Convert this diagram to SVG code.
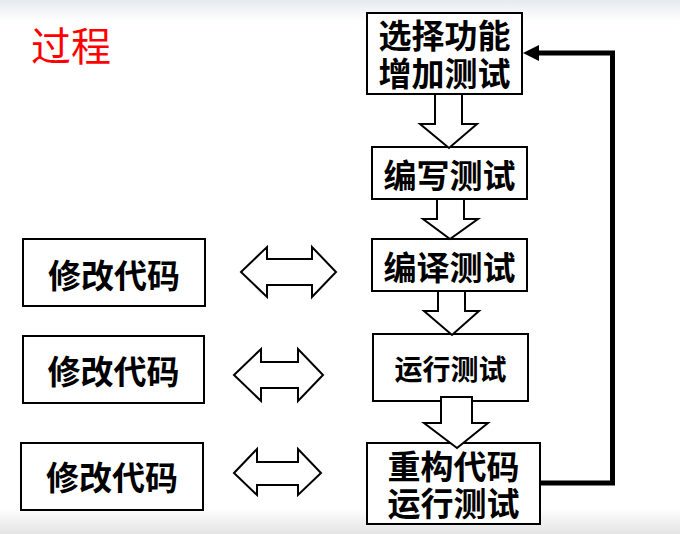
<svg xmlns="http://www.w3.org/2000/svg" width="680" height="534" viewBox="0 0 680 534">
<defs>
<linearGradient id="topg" x1="0" y1="0" x2="0" y2="1"><stop offset="0" stop-color="#e6ebf1"/><stop offset="1" stop-color="#ffffff"/></linearGradient>
<linearGradient id="botg" x1="0" y1="0" x2="0" y2="1"><stop offset="0" stop-color="#ffffff"/><stop offset="1" stop-color="#e4e4e4"/></linearGradient>
<style>
.box{fill:#fff;stroke:#000;stroke-width:2}
.arr{fill:#fff;stroke:#000;stroke-width:2;stroke-linejoin:miter}
.t{font-family:"Noto Sans CJK SC","Noto Sans",sans-serif;font-weight:bold;font-size:33px;fill:#000;text-anchor:middle}
.ts{font-size:28px}
.title{font-family:"Noto Sans CJK SC","Noto Sans",sans-serif;font-size:40px;fill:#ff0000}
</style>
</defs>
<rect x="0" y="0" width="680" height="534" fill="#fff"/>
<rect x="0" y="0" width="680" height="22" fill="url(#topg)"/>
<rect x="0" y="508" width="680" height="26" fill="url(#botg)"/>
<text class="title" x="31" y="61">过程</text>

<g id="n1"><rect class="box" x="367" y="13" width="155" height="81"/><text class="t"><tspan x="444.5" y="48">选择功能</tspan><tspan x="444.5" y="86">增加测试</tspan></text></g>
<g id="n2"><rect class="box" x="372" y="147" width="155" height="52"/><text class="t" x="449.5" y="188">编写测试</text></g>
<g id="n3"><rect class="box" x="372" y="239" width="155" height="52"/><text class="t" x="449.5" y="280">编译测试</text></g>
<g id="n4"><rect class="box" x="373" y="334" width="155" height="67"/><text class="t ts" x="450.5" y="380">运行测试</text></g>
<g id="n5"><rect class="box" x="367" y="443" width="173" height="81"/><text class="t"><tspan x="453.5" y="479">重构代码</tspan><tspan x="453.5" y="516">运行测试</tspan></text></g>
<g id="m1"><rect class="box" x="23" y="239" width="182" height="67"/><text class="t" x="114" y="288">修改代码</text></g>
<g id="m2"><rect class="box" x="23" y="336" width="181" height="67"/><text class="t" x="113.5" y="384">修改代码</text></g>
<g id="m3"><rect class="box" x="21" y="443" width="182" height="67"/><text class="t" x="112" y="490">修改代码</text></g>

<g id="connectors">
<polygon class="arr" points="435,94 462,94 462,124 477,124 449,148 420,124 435,124"/>
<polygon class="arr" points="437,199 464,199 464,219 478,219 450,239 423,219 437,219"/>
<polygon class="arr" points="438,291 465,291 465,311 479,311 452,335 424,311 438,311"/>
<polygon class="arr" points="441,397 472,397 472,423 488,423 457,448 424,423 441,423"/>
<polygon class="arr" points="241,272 267,247 267,259 312,259 312,247 336,272 312,297 312,285 267,285 267,297"/>
<polygon class="arr" points="234,375 261,349 261,362 298,362 298,349 323,375 298,401 298,388 261,388 261,401"/>
<polygon class="arr" points="234,473 257,449 257,462 298,462 298,449 321,473 298,495 298,485 257,485 257,495"/>
<polyline points="540,483 612.5,483 612.5,53 536,53" fill="none" stroke="#000" stroke-width="5"/>
<polygon points="523,53 539,45 539,61" fill="#000"/>
</g>
</svg>
